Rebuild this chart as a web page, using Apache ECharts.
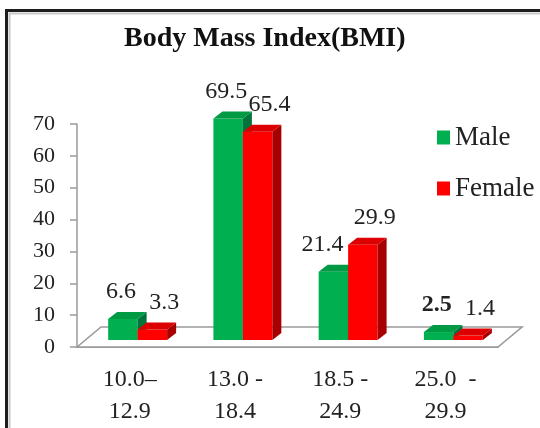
<!DOCTYPE html>
<html>
<head>
<meta charset="utf-8">
<script src="https://cdn.jsdelivr.net/npm/echarts@6/dist/echarts.min.js"></script>
<style>
  html, body { margin: 0; padding: 0; background: #fff; }
  #chart { width: 540px; height: 428px; }
</style>
</head>
<body>
<div id="chart"></div>
<script>
// BMI class ranges and the share (%) of each group falling into them
const categories = ['10.0–\n12.9', '13.0 -\n18.4', '18.5 -\n24.9', '25.0  -\n29.9'];
const seriesNames = ['Male', 'Female'];
const maleValues = [6.6, 69.5, 21.4, 2.5];
const femaleValues = [3.3, 65.4, 29.9, 1.4];
const yMin = 0;
const yMax = 70;
const yStep = 10;

const FONT = '"Liberation Serif", "Times New Roman", serif';
const TEXT = '#222';
const AXIS_GREY = '#9a9a9a';

// pseudo-3D projection offsets (pixels)
const FLOOR_DEPTH = [24, -20];
const BAR_FRONT = [8, -7];
const BAR_DEPTH = [9, -7];

const palette = [
  { front: '#00B050', top: '#009A45', side: '#00743A', label: -2 },
  { front: '#FF0000', top: '#DD0000', side: '#A80000', label: 12 }
];

// the one value label that is set in bold
const boldLabel = { slot: 0, index: 3 };

function barRenderer(slot) {
  const c = palette[slot];
  return function (params, api) {
    const idx = api.value(0);
    const val = api.value(1);
    const base = api.coord([idx, 0]);
    const top = api.coord([idx, val]);
    const band = api.size([1, 0])[0];
    const w = band * 0.28;
    const x0 = base[0] + BAR_FRONT[0] + (slot === 0 ? -w : 0);
    const x1 = x0 + w;
    const yb = base[1] + BAR_FRONT[1];
    const yt = top[1] + BAR_FRONT[1];
    const dx = BAR_DEPTH[0], dy = BAR_DEPTH[1];
    const bold = boldLabel.slot === slot && boldLabel.index === idx;
    // a left-hand label moves further left when the bar beside it is taller
    let labelDx = c.label;
    if (slot === 0 && femaleValues[idx] > val) labelDx -= 9;
    return {
      type: 'group',
      children: [
        { type: 'polygon', shape: { points: [[x0, yt], [x1, yt], [x1, yb], [x0, yb]] },
          style: { fill: c.front } },
        { type: 'polygon', shape: { points: [[x1, yt], [x1 + dx, yt + dy], [x1 + dx, yb + dy], [x1, yb]] },
          style: { fill: c.side } },
        { type: 'polygon', shape: { points: [[x0, yt], [x0 + dx, yt + dy], [x1 + dx, yt + dy], [x1, yt]] },
          style: { fill: c.top } },
        { type: 'text',
          style: {
            text: val.toFixed(1),
            x: (x0 + x1) / 2 + labelDx,
            y: yt - 27,
            align: 'center',
            verticalAlign: 'middle',
            fontFamily: FONT,
            fontSize: 24,
            fontWeight: bold ? 'bold' : 'normal',
            fill: TEXT
          } }
      ]
    };
  };
}

function floorRenderer(params, api) {
  const band = api.size([1, 0])[0];
  const first = api.coord([0, yMin]);
  const last = api.coord([categories.length - 1, yMin]);
  const xl = first[0] - band / 2;
  const xr = last[0] + band / 2;
  const y = first[1];
  const dx = FLOOR_DEPTH[0], dy = FLOOR_DEPTH[1];
  return {
    type: 'polygon',
    shape: { points: [[xl, y], [xl + dx, y + dy], [xr + dx, y + dy], [xr, y]] },
    style: { fill: '#fff', stroke: AXIS_GREY, lineWidth: 1.6 }
  };
}

const chart = echarts.init(document.getElementById('chart'), null, { renderer: 'canvas' });

chart.setOption({
  animation: false,
  backgroundColor: '#fff',
  title: {
    text: 'Body Mass Index(BMI)',
    left: 119,
    top: 20,
    textStyle: { fontFamily: FONT, fontSize: 28, fontWeight: 'bold', color: '#111' }
  },
  legend: {
    data: seriesNames,
    orient: 'vertical',
    left: 432,
    top: 119,
    icon: 'rect',
    itemWidth: 13,
    itemHeight: 14,
    itemGap: 24,
    textStyle: { fontFamily: FONT, fontSize: 27, color: TEXT }
  },
  grid: { left: 77, right: 42, top: 124, bottom: 81 },
  xAxis: {
    type: 'category',
    data: categories,
    axisLine: { lineStyle: { color: AXIS_GREY, width: 2 } },
    axisTick: { length: 8, lineStyle: { color: AXIS_GREY, width: 1.5 } },
    axisLabel: { interval: 0, margin: 17, fontFamily: FONT, fontSize: 24, lineHeight: 32, color: TEXT },
    splitLine: { show: false }
  },
  yAxis: {
    type: 'value',
    min: yMin,
    max: yMax,
    interval: yStep,
    axisLine: { show: true, lineStyle: { color: AXIS_GREY, width: 1.5 } },
    axisTick: { show: true, length: 7, lineStyle: { color: AXIS_GREY, width: 1.5 } },
    axisLabel: { margin: 22, fontFamily: FONT, fontSize: 22, color: TEXT },
    splitLine: { show: false }
  },
  graphic: [
    { type: 'rect', silent: true, z: 100,
      shape: { x: 6.5, y: 10.5, width: 600, height: 500 },
      style: { fill: 'none', stroke: '#1e1e1e', lineWidth: 3 } },
    { type: 'rect', silent: true, z: 100,
      shape: { x: 9.5, y: 13.5, width: 600, height: 500 },
      style: { fill: 'none', stroke: '#c8c8c8', lineWidth: 2 } }
  ],
  series: [
    { type: 'custom', name: 'floor', renderItem: floorRenderer, data: [[0, 0]],
      encode: { x: 0, y: 1 }, silent: true, clip: false, z: 1 },
    { type: 'custom', name: seriesNames[0], renderItem: barRenderer(0),
      itemStyle: { color: palette[0].front },
      data: maleValues.map((v, i) => [i, v]), encode: { x: 0, y: 1 }, clip: false, z: 2 },
    { type: 'custom', name: seriesNames[1], renderItem: barRenderer(1),
      itemStyle: { color: palette[1].front },
      data: femaleValues.map((v, i) => [i, v]), encode: { x: 0, y: 1 }, clip: false, z: 3 }
  ]
});
</script>
</body>
</html>
